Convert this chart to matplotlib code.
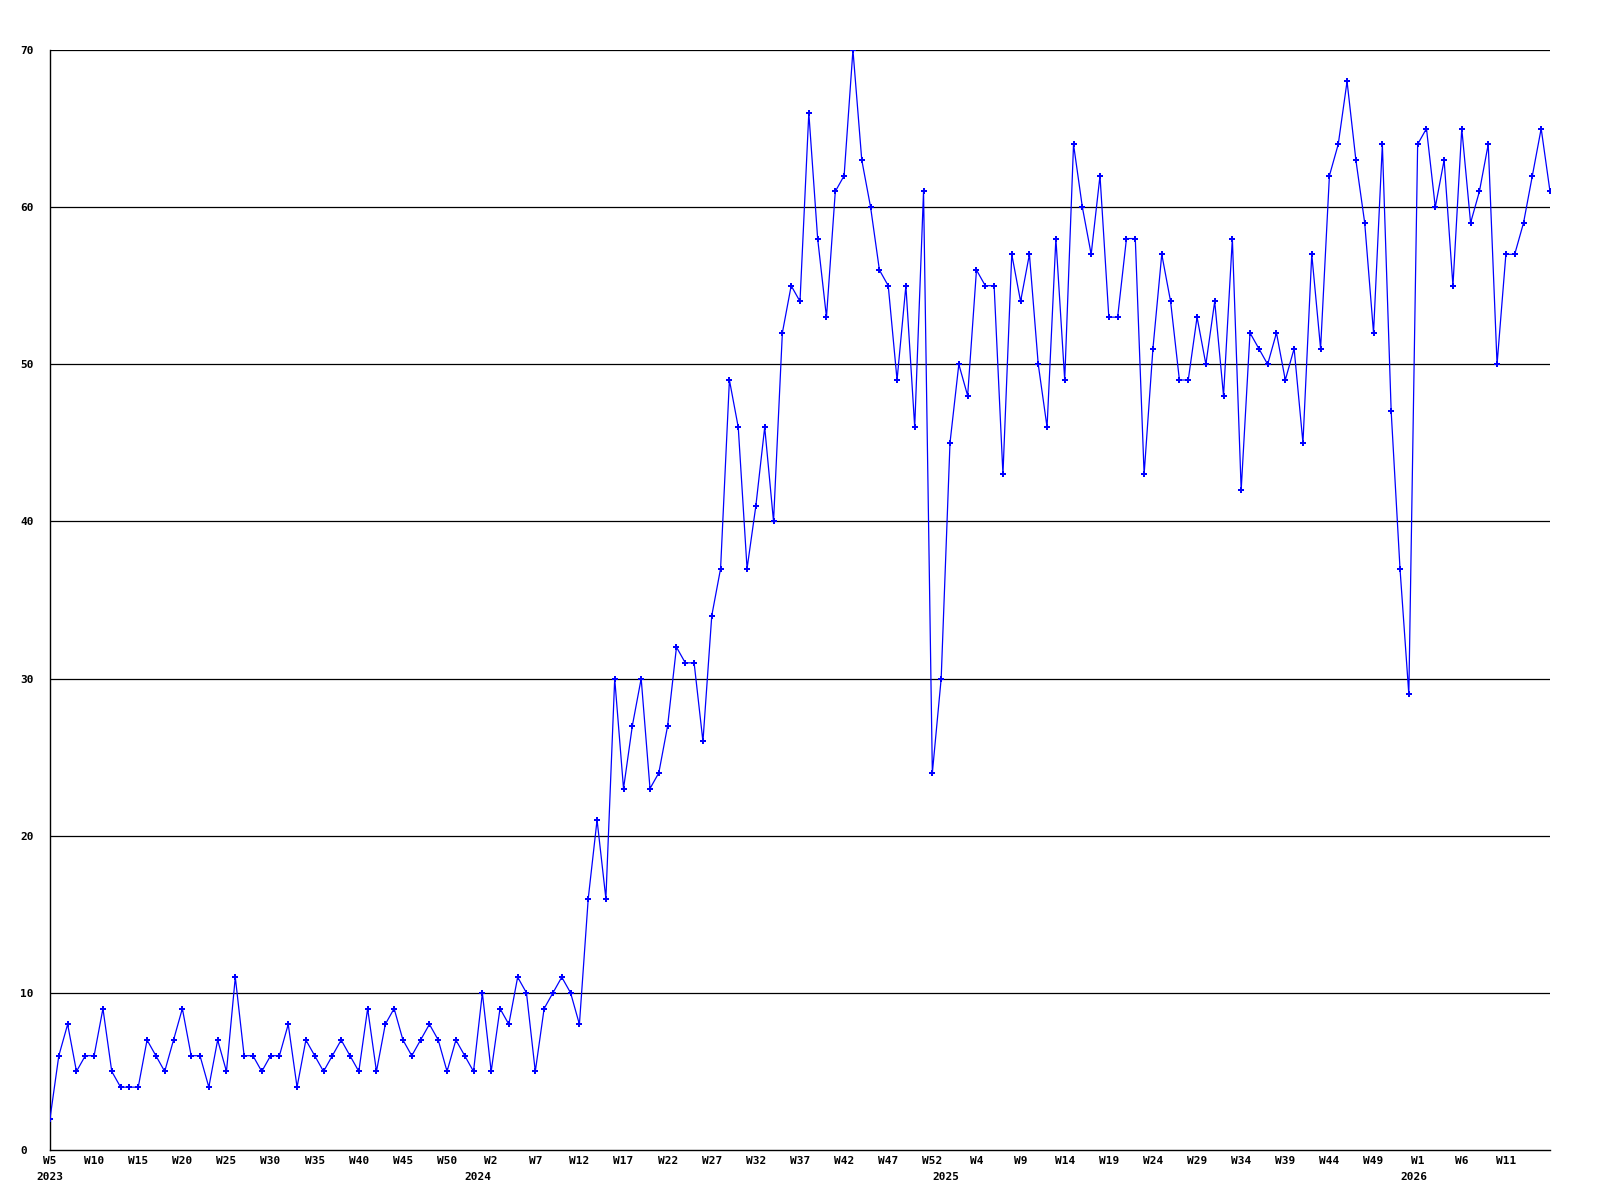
import matplotlib
matplotlib.use("Agg")
import matplotlib.pyplot as plt
from matplotlib.transforms import ScaledTranslation

# Weekly values, 2023 W5 .. 2026 W16 (weeks numbered 1..53 per year)
values_2023 = [2, 6, 8, 5, 6, 6, 9, 5, 4, 4, 4,
               7, 6, 5, 7, 9, 6, 6, 4, 7, 5,
               11, 6, 6, 5, 6, 6, 8, 4, 7, 6,
               5, 6, 7, 6, 5, 9, 5, 8, 9, 7,
               6, 7, 8, 7, 5, 7, 6, 5]
values_2024 = [10, 5, 9, 8, 11, 10, 5, 9, 10, 11, 10, 8,
               16, 21, 16, 30, 23, 27, 30, 23, 24, 27, 32, 31, 31, 26, 34,
               37, 49, 46, 37, 41, 46, 40, 52, 55, 54, 66, 58, 53, 61, 62,
               70, 63, 60, 56, 55, 49, 55, 46, 61, 24, 30]
values_2025 = [45, 50, 48, 56, 55, 55, 43, 57, 54, 57, 50, 46, 58, 49, 64,
               60, 57, 62, 53, 53, 58, 58, 43, 51, 57, 54, 49, 49, 53,
               50, 54, 48, 58, 42, 52, 51, 50, 52, 49, 51, 45, 57, 51, 62,
               64, 68, 63, 59, 52, 64, 47, 37, 29]
values_2026 = [64, 65, 60, 63, 55, 65, 59, 61, 64, 50, 57, 57, 59, 62, 65, 61]

years = [2023, 2024, 2025, 2026]
first_week = [5, 1, 1, 1]
series = [values_2023, values_2024, values_2025, values_2026]
y_ticks = [0, 10, 20, 30, 40, 50, 60, 70]

# Build week labels and flat series
week_labels = []
values = []
year_start_idx = []
for yr, fw, vals in zip(years, first_week, series):
    year_start_idx.append(len(values))
    for k, v in enumerate(vals):
        week_labels.append(f"W{fw + k}")
        values.append(v)
x = list(range(len(values)))

fig = plt.figure(figsize=(16, 12), dpi=100)
ax = fig.add_axes([50 / 1600, 1 - 1150 / 1200, 1500 / 1600, 1100 / 1200])

ax.plot(x, values, color="#0000ff", lw=0.9, marker="P", ms=4.0,
        markeredgewidth=0, zorder=3)

ax.set_xlim(0, len(values) - 1)
ax.set_ylim(0, 70)

for yv in y_ticks[1:]:
    ax.axhline(yv, color="black", lw=0.9, zorder=1)

for s in ["top", "right"]:
    ax.spines[s].set_visible(False)
for s in ["left", "bottom"]:
    ax.spines[s].set_color("black")
    ax.spines[s].set_linewidth(1.0)

font = dict(family="DejaVu Sans Mono", weight="bold", size=8)

ax.set_yticks(y_ticks)
ax.set_yticklabels([str(v) for v in y_ticks], **font)
ax.tick_params(axis="y", length=0, pad=21.6)
for lab in ax.get_yticklabels():
    lab.set_horizontalalignment("left")

tick_idx = list(range(0, len(values) - 1, 5))
ax.set_xticks(tick_idx)
ax.set_xticklabels([week_labels[i] for i in tick_idx], **font)
ax.tick_params(axis="x", which="major", length=0, pad=4)

ax.xaxis.remove_overlapping_locs = False
ax.set_xticks(year_start_idx, minor=True)
ax.set_xticklabels([str(y) for y in years], minor=True, **font)
ax.tick_params(axis="x", which="minor", length=0, pad=16)
shift = ScaledTranslation(-4 / 100, 0, fig.dpi_scale_trans)
for k, lab in enumerate(ax.get_xticklabels(minor=True)):
    if k > 0:
        lab.set_transform(lab.get_transform() + shift)

fig.savefig("out.png", dpi=100, facecolor="white")
